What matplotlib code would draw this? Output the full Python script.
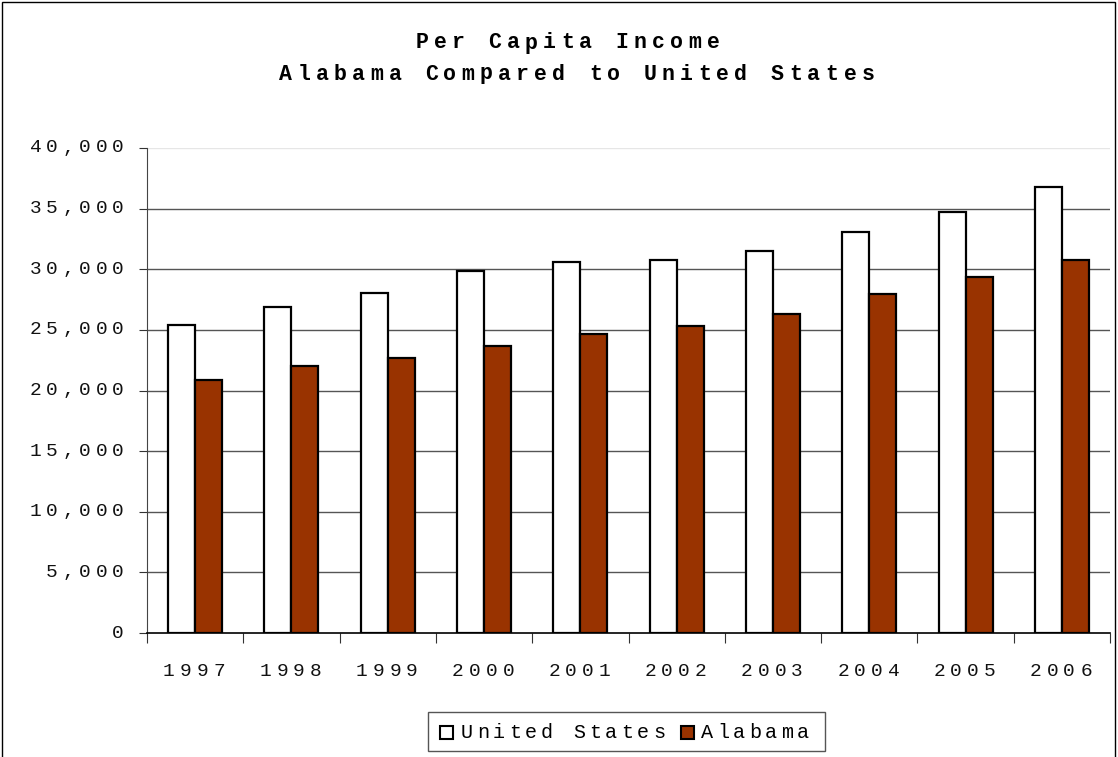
import matplotlib
matplotlib.use("Agg")
import matplotlib.pyplot as plt
import numpy as np
from matplotlib.patches import Rectangle
from matplotlib.transforms import offset_copy, blended_transform_factory

years = ["1997", "1998", "1999", "2000", "2001", "2002", "2003", "2004", "2005", "2006"]
us_income = [25400, 26900, 28050, 29850, 30600, 30800, 31500, 33100, 34750, 36750]
al_income = [20900, 22000, 22700, 23650, 24650, 25300, 26300, 27950, 29350, 30800]
yticks = [0, 5000, 10000, 15000, 20000, 25000, 30000, 35000, 40000]
series_names = ["United States", "Alabama"]
series_colors = ["white", "#993300"]
title_lines = ["Per Capita Income", "Alabama Compared to United States"]

mono = "Liberation Mono"
W, H = 1118, 757

fig = plt.figure(figsize=(W / 100, H / 100), dpi=100)
fig.patch.set_facecolor("white")
ax = fig.add_axes([147 / W, 1 - 633 / H, (1110 - 147) / W, (633 - 148) / H])


def spaced(s, trans, x, y, pitch, ha="center", **kw):
    n = len(s)
    if ha == "center":
        start = -(n - 1) / 2 * pitch
    elif ha == "right":
        start = -(n - 1) * pitch
    else:
        start = 0.0
    for i, c in enumerate(s):
        if c == " ":
            continue
        t = offset_copy(trans, fig=fig, x=start + i * pitch, y=0, units="dots")
        fig.text(x, y, c, transform=t, ha="center", va="center", **kw)


x = np.arange(len(years))
w = 0.28
ax.bar(x - w / 2, us_income, w, color=series_colors[0], edgecolor="black", linewidth=1.6, zorder=3)
ax.bar(x + w / 2, al_income, w, color=series_colors[1], edgecolor="black", linewidth=1.6, zorder=3)

ax.set_xlim(-0.5, len(years) - 0.5)
ax.set_ylim(0, 40000)
ax.set_yticks(yticks)
ax.set_yticklabels([])
for v in yticks[1:-1]:
    ax.axhline(v, color="#555555", linewidth=1.0, zorder=1)
ax.axhline(40000, color="#e6e6e6", linewidth=1.0, zorder=1)

ax.set_xticks(np.arange(len(years) + 1) - 0.5)
ax.set_xticklabels([])
ax.tick_params(axis="x", direction="out", length=7, color="#333333")
ax.tick_params(axis="y", direction="out", length=6, color="#333333")

for s in ["top", "right"]:
    ax.spines[s].set_visible(False)
ax.spines["left"].set_color("#444444")
ax.spines["bottom"].set_color("black")
ax.spines["bottom"].set_linewidth(1.2)

# y tick labels (spaced monospace)
ytrans = blended_transform_factory(fig.transFigure, ax.transData)
for v in yticks:
    spaced(f"{v:,}", ytrans, 118 / W, v, 16.5, ha="right",
           fontfamily=mono, fontsize=14, color="#111111")

# x tick labels (spaced monospace)
xtrans = blended_transform_factory(ax.transData, fig.transFigure)
for i, yr in enumerate(years):
    spaced(yr, offset_copy(xtrans, fig=fig, x=-1, y=0, units="dots"), i, 1 - 671 / H, 16.8,
           fontfamily=mono, fontsize=14, color="#111111")

# title
ftrans = fig.transFigure
spaced(title_lines[0], ftrans, 567.5 / W, 1 - 43 / H, 18.2, fontfamily=mono,
       fontweight="bold", fontsize=15.5)
spaced(title_lines[1], ftrans, 577 / W, 1 - 74 / H, 18.2, fontfamily=mono,
       fontweight="bold", fontsize=15.5)

# legend
fig.patches.append(Rectangle((428 / W, 1 - 751 / H), (825 - 428) / W, (751 - 712) / H,
                             transform=ftrans, facecolor="white", edgecolor="#555555", linewidth=1.0))
legend_items = [(440, 463), (681, 703)]
for (sq_x, tx), name, col in zip(legend_items, series_names, series_colors):
    fig.patches.append(Rectangle((sq_x / W, 1 - 739 / H), 13 / W, 13 / H, transform=ftrans,
                                 facecolor=col, edgecolor="black", linewidth=1.5))
    spaced(name, ftrans, (tx + 4) / W, 1 - 732 / H, 16.0, ha="left", fontfamily=mono, fontsize=14.5)

# outer border
fig.patches.append(Rectangle((2 / W, -0.05), 1113 / W, 1.05 - 2 / H, transform=ftrans,
                             fill=False, edgecolor="black", linewidth=1.0))

fig.savefig("out.png", dpi=100)
